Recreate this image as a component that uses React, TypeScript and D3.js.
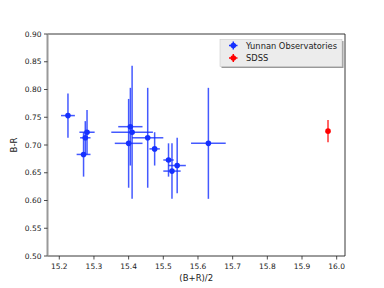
import React from 'react';
import * as d3 from 'd3';

// Yunnan Observatories measurements
const yunnanX = [15.225, 15.28, 15.275, 15.27, 15.405, 15.41, 15.4, 15.455, 15.475, 15.515, 15.525, 15.54, 15.63];
const yunnanXErr = [0.02, 0.022, 0.015, 0.02, 0.035, 0.06, 0.04, 0.045, 0.015, 0.015, 0.025, 0.025, 0.05];
const yunnanY = [0.753, 0.723, 0.713, 0.683, 0.733, 0.723, 0.703, 0.713, 0.693, 0.673, 0.653, 0.663, 0.703];
const yunnanYErr = [0.04, 0.04, 0.03, 0.04, 0.07, 0.12, 0.08, 0.09, 0.03, 0.03, 0.05, 0.05, 0.1];

// SDSS
const sdssX = [15.975];
const sdssXErr = [0.003];
const sdssY = [0.725];
const sdssYErr = [0.02];

const xTicks = [15.2, 15.3, 15.4, 15.5, 15.6, 15.7, 15.8, 15.9, 16.0];
const yTicks = [0.5, 0.55, 0.6, 0.65, 0.7, 0.75, 0.8, 0.85, 0.9];

const W = 384;
const H = 288;
const m = { left: 47.5, right: 345, top: 34, bottom: 256 };
const font = 'DejaVu Sans, sans-serif';

export default function App() {
  const x = d3.scaleLinear().domain([15.166, 16.024]).range([m.left, m.right]);
  const y = d3.scaleLinear().domain([0.5, 0.9]).range([m.bottom, m.top]);

  const series = [
    { name: 'Yunnan Observatories', color: '#1530ff', xs: yunnanX, xe: yunnanXErr, ys: yunnanY, ye: yunnanYErr },
    { name: 'SDSS', color: '#ff0000', xs: sdssX, xe: sdssXErr, ys: sdssY, ye: sdssYErr },
  ];

  return (
    <svg width={W} height={H} style={{ position: 'absolute', left: 0, top: 0 }} fontFamily={font}>
      <rect width={W} height={H} fill="#fff" />
      {/* error bars */}
      {series.map(s => (
        <g key={s.name}>
          {s.xs.map((v, i) => (
            <g key={i} stroke={s.color} strokeWidth={1.5} strokeOpacity={0.8}>
              <line x1={x(v - s.xe[i])} x2={x(v + s.xe[i])} y1={y(s.ys[i])} y2={y(s.ys[i])} />
              <line x1={x(v)} x2={x(v)} y1={y(s.ys[i] - s.ye[i])} y2={y(s.ys[i] + s.ye[i])} />
            </g>
          ))}
          {s.xs.map((v, i) => (
            <circle key={'c' + i} cx={x(v)} cy={y(s.ys[i])} r={2.8} fill={s.color} />
          ))}
        </g>
      ))}

      {/* spines */}
      <line x1={m.left} x2={m.right} y1={m.top} y2={m.top} stroke="#222" strokeWidth={0.9} />
      <line x1={m.left} x2={m.right} y1={m.bottom} y2={m.bottom} stroke="#222" strokeWidth={0.9} />
      <line x1={m.right} x2={m.right} y1={m.top} y2={m.bottom} stroke="#222" strokeWidth={0.9} />
      <line x1={m.left} x2={m.left} y1={m.top} y2={m.bottom} stroke="#999" strokeWidth={2} />

      {/* x axis */}
      {xTicks.map(t => (
        <g key={t}>
          <line x1={x(t)} x2={x(t)} y1={m.bottom} y2={m.bottom + 3.5} stroke="#222" strokeWidth={0.8} />
          <text x={x(t)} y={m.bottom + 13} fontSize={7.5} textAnchor="middle" fill="#222">
            {d3.format('.1f')(t)}
          </text>
        </g>
      ))}
      <text x={(m.left + m.right) / 2} y={281} fontSize={8.5} textAnchor="middle" fill="#222">
        (B+R)/2
      </text>

      {/* y axis */}
      {yTicks.map(t => (
        <g key={t}>
          <line x1={m.left - 3.5} x2={m.left} y1={y(t)} y2={y(t)} stroke="#222" strokeWidth={0.8} />
          <text x={m.left - 6} y={y(t) + 2.7} fontSize={7.5} textAnchor="end" fill="#222">
            {d3.format('.2f')(t)}
          </text>
        </g>
      ))}
      <text transform={`translate(17,${(m.top + m.bottom) / 2}) rotate(-90)`} fontSize={8.5} textAnchor="middle" fill="#222">
        B-R
      </text>

      {/* legend */}
      <rect x={221.5} y={41} width={122} height={27} fill="#999" />
      <rect x={220} y={39.5} width={122} height={27} fill="#ececec" stroke="#ccc" strokeWidth={0.6} />
      {series.map((s, i) => {
        const ly = 45.5 + i * 12.5;
        return (
          <g key={s.name}>
            <line x1={229} x2={237.5} y1={ly} y2={ly} stroke={s.color} strokeWidth={1.5} />
            <line x1={233.3} x2={233.3} y1={ly - 4} y2={ly + 4} stroke={s.color} strokeWidth={1.5} />
            <circle cx={233.3} cy={ly} r={2.8} fill={s.color} />
            <text x={246} y={ly + 3} fontSize={8.3} fill="#222">{s.name}</text>
          </g>
        );
      })}
    </svg>
  );
}
